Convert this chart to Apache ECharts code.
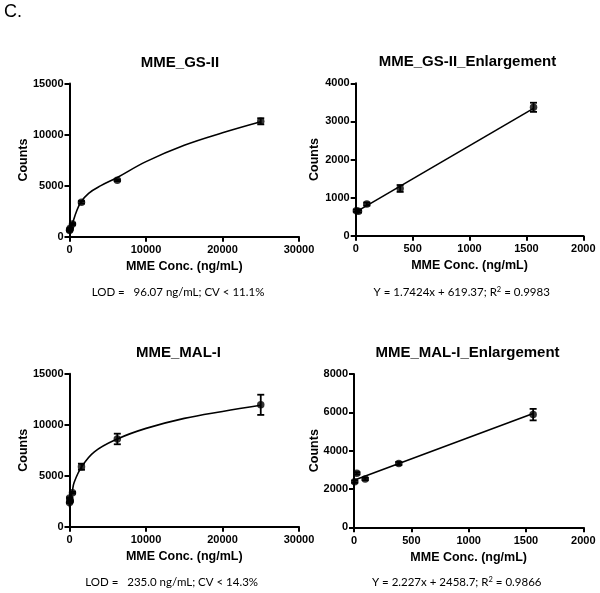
<!DOCTYPE html>
<html>
<head>
<meta charset="utf-8">
<script src="https://cdn.jsdelivr.net/npm/echarts@6/dist/echarts.min.js"></script>
<style>
html,body{margin:0;padding:0;background:#fff;}
#chart{width:600px;height:593px;}
</style>
</head>
<body>
<div id="chart"></div>
<script>
// ---- data ----
const conc = [6.1, 24.4, 97.7, 390.6, 1562.5, 6250, 25000];
const gsCounts = [656, 640, 830, 1240, 3370, 5520, 11300];
const gsErr = [30, 30, 40, 90, 120, 80, 300];
const malCounts = [2380, 2817, 2520, 3330, 5880, 8600, 11950];
const malErr = [60, 60, 60, 80, 300, 520, 990];

// fitted curve (full range)
const gsCurveX = [0, 390, 900, 1500, 2500, 4100, 6250, 10000, 15000, 20000, 25000];
const gsCurveY = [750, 1350, 2450, 3400, 4250, 5000, 5800, 7350, 8950, 10170, 11250];
const malCurveX = [0, 20, 100, 350, 614, 1560, 3250, 6250, 10000, 15000, 20000, 25000];
const malCurveY = [1900, 2400, 2750, 3400, 4350, 5840, 7340, 8600, 9640, 10620, 11300, 11900];

// linear fits (enlargement panels), end points
const gsLineX = [0, 1562.5];
const gsLineY = [619, 3342];
const malLineX = [0, 1562.5];
const malLineY = [2459, 5938];

// axis ticks
const xTicksFull = [0, 10000, 20000, 30000];
const xTicksEnl = [0, 500, 1000, 1500, 2000];
const yTicksFull = [0, 5000, 10000, 15000];
const yTicksGsEnl = [0, 1000, 2000, 3000, 4000];
const yTicksMalEnl = [0, 2000, 4000, 6000, 8000];
const enlCount = 5; // points shown in enlargement panels

// ---- texts ----
const titles = ['MME_GS-II', 'MME_GS-II_Enlargement', 'MME_MAL-I', 'MME_MAL-I_Enlargement'];
const xName = 'MME Conc. (ng/mL)';
const yName = 'Counts';

const zip = (a, b) => a.map((v, i) => [v, b[i]]);
const tickAxis = (t) => ({min: t[0], max: t[t.length - 1], interval: t[1] - t[0]});

const grids = [
  {left: 69.5, top: 83.5, width: 229.5, height: 153.2},
  {left: 355.7, top: 83.3, width: 227.6, height: 152.4},
  {left: 69.5, top: 373.7, width: 229.5, height: 153},
  {left: 354, top: 374, width: 229.3, height: 153.3}
];

const labelFont = '"Liberation Sans", Arial, sans-serif';
const axisCommon = {
  axisLine: {show: true, onZero: false, lineStyle: {color: '#000', width: 2}},
  axisTick: {show: true, inside: false, length: 5, lineStyle: {color: '#000', width: 2}},
  splitLine: {show: false},
  nameTextStyle: {color: '#000', fontFamily: labelFont, fontWeight: 'bold', fontSize: 12.5},
  nameLocation: 'middle',
  nameMoveOverlap: false
};
const labelStyle = (m) => ({color: '#000', fontFamily: labelFont, fontWeight: 'bold', fontSize: 11,
  margin: m, formatter: (v) => String(v)});

const xAxes = [xTicksFull, xTicksEnl, xTicksFull, xTicksEnl].map((t, i) => Object.assign({
  type: 'value', gridIndex: i, name: xName, nameGap: 23.5
}, axisCommon, tickAxis(t), {axisLabel: labelStyle(8)}));

const yGaps = [39.5, 34.5, 39.5, 33];
const yAxes = [yTicksFull, yTicksGsEnl, yTicksFull, yTicksMalEnl].map((t, i) => Object.assign({
  type: 'value', gridIndex: i, name: yName, nameGap: yGaps[i], nameRotate: 90
}, axisCommon, tickAxis(t), {axisLabel: labelStyle(6)}));

function errSeries(idx, xs, ys, es) {
  return {
    type: 'custom', xAxisIndex: idx, yAxisIndex: idx,
    data: xs.map((x, i) => [x, ys[i], es[i]]),
    renderItem: function (params, api) {
      const x = api.value(0), y = api.value(1), e = api.value(2);
      const top = api.coord([x, y + e]);
      const bot = api.coord([x, y - e]);
      const w = 3.5;
      const st = {stroke: '#000', lineWidth: 1.8};
      return {
        type: 'group',
        children: [
          {type: 'line', shape: {x1: top[0], y1: top[1], x2: bot[0], y2: bot[1]}, style: st},
          {type: 'line', shape: {x1: top[0] - w, y1: top[1], x2: top[0] + w, y2: top[1]}, style: st},
          {type: 'line', shape: {x1: bot[0] - w, y1: bot[1], x2: bot[0] + w, y2: bot[1]}, style: st}
        ]
      };
    },
    z: 3
  };
}
function dots(idx, xs, ys) {
  return {type: 'scatter', xAxisIndex: idx, yAxisIndex: idx, data: zip(xs, ys),
    symbol: 'circle', symbolSize: 7.5, itemStyle: {color: '#000'}, z: 4, silent: true};
}
function curve(idx, xs, ys, smooth) {
  return {type: 'line', xAxisIndex: idx, yAxisIndex: idx, data: zip(xs, ys),
    showSymbol: false, symbol: 'none', smooth: smooth,
    lineStyle: {color: '#000', width: 1.6}, z: 2, silent: true};
}

const series = [
  curve(0, gsCurveX, gsCurveY, 0.4), errSeries(0, conc, gsCounts, gsErr), dots(0, conc, gsCounts),
  curve(1, gsLineX, gsLineY, false),
  errSeries(1, conc.slice(0, enlCount), gsCounts.slice(0, enlCount), gsErr.slice(0, enlCount)),
  dots(1, conc.slice(0, enlCount), gsCounts.slice(0, enlCount)),
  curve(2, malCurveX, malCurveY, 0.4), errSeries(2, conc, malCounts, malErr), dots(2, conc, malCounts),
  curve(3, malLineX, malLineY, false),
  errSeries(3, conc.slice(0, enlCount), malCounts.slice(0, enlCount), malErr.slice(0, enlCount)),
  dots(3, conc.slice(0, enlCount), malCounts.slice(0, enlCount))
];

const titlePos = [[180, 62.5], [467.5, 61.5], [178.5, 352.5], [467.5, 352.5]];
const noteFont = 'Lato, "Open Sans", sans-serif';
const supStyle = {fontSize: 7.5, fontFamily: noteFont, fill: '#000', verticalAlign: 'top', padding: [0, 0, 5, 0]};
const mainStyle = {fontSize: 11.5, fontFamily: noteFont, fill: '#000'};

const graphic = [
  {type: 'text', left: 4, top: 3, style: {text: 'C.', font: '18px "Liberation Sans", Arial, sans-serif', fill: '#000'}}
].concat(titles.map((t, i) => ({
  type: 'text', x: titlePos[i][0], y: titlePos[i][1],
  style: {text: t, align: 'center', verticalAlign: 'middle', fill: '#000',
    font: 'bold 15px "Liberation Sans", Arial, sans-serif'}
}))).concat([
  {type: 'text', x: 178, y: 292.5, style: {text: 'LOD =   96.07 ng/mL; CV < 11.1%', align: 'center', verticalAlign: 'middle', fill: '#000', font: '11.5px ' + noteFont}},
  {type: 'text', x: 171.7, y: 582, style: {text: 'LOD =   235.0 ng/mL; CV < 14.3%', align: 'center', verticalAlign: 'middle', fill: '#000', font: '11.5px ' + noteFont}},
  {type: 'text', x: 461.7, y: 292.5, style: {text: '{m|Y = 1.7424x + 619.37; R}{s|2}{m| = 0.9983}', align: 'center', verticalAlign: 'middle', rich: {m: mainStyle, s: supStyle}}},
  {type: 'text', x: 456.7, y: 582, style: {text: '{m|Y = 2.227x + 2458.7; R}{s|2}{m| = 0.9866}', align: 'center', verticalAlign: 'middle', rich: {m: mainStyle, s: supStyle}}}
]);

const chart = echarts.init(document.getElementById('chart'), null, {renderer: 'canvas'});
chart.setOption({
  animation: false,
  backgroundColor: '#fff',
  grid: grids.map(g => Object.assign({containLabel: false}, g)),
  xAxis: xAxes,
  yAxis: yAxes,
  series: series,
  graphic: graphic
});
</script>
</body>
</html>
